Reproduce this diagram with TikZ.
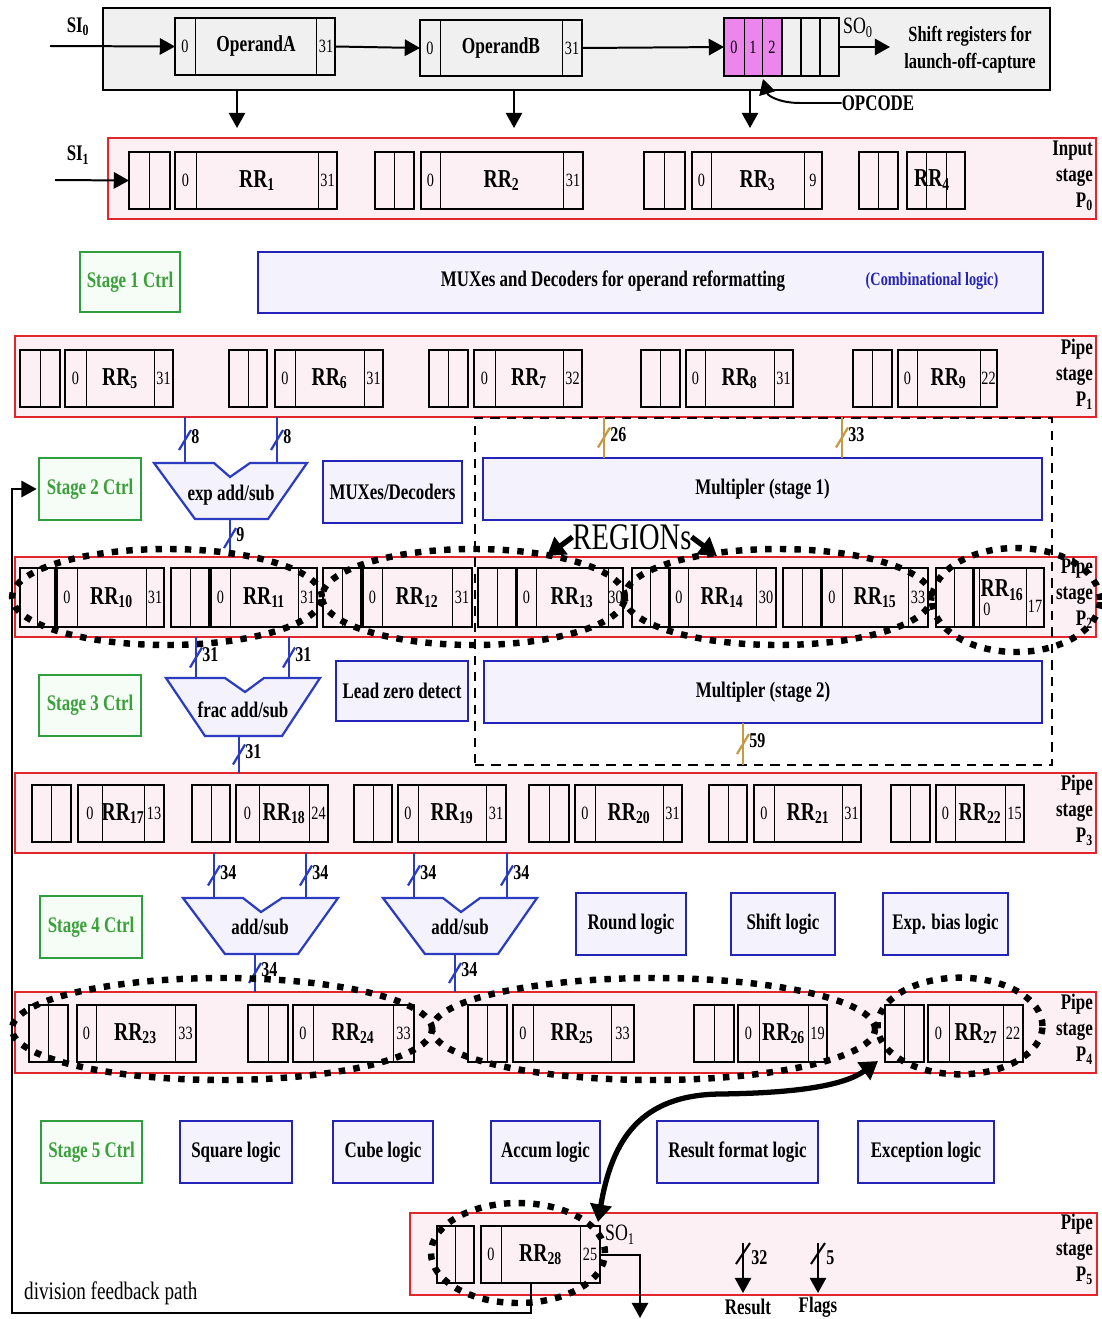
\documentclass[tikz,border=0pt]{standalone}
\usepackage{fontspec}
\setmainfont{Liberation Serif}[FakeStretch=0.76]
\usetikzlibrary{calc,fit,shapes.geometric,arrows.meta}
\definecolor{pinkfill}{HTML}{FDF0F4}
\definecolor{redline}{HTML}{E3262C}
\definecolor{grayfill}{HTML}{F0F0F0}
\definecolor{ctrlgreen}{HTML}{2E9E3E}
\definecolor{ctrltext}{HTML}{3AA03A}
\definecolor{ctrlfill}{HTML}{F6FCF6}
\definecolor{logicblue}{HTML}{2323B8}
\definecolor{logicfill}{HTML}{F4F2FD}
\definecolor{busblue}{HTML}{2B3CC0}
\definecolor{busgold}{HTML}{C49A44}
\definecolor{opmag}{HTML}{EC86EC}
\newcommand\fsz[2]{\fontsize{#1}{#2}\selectfont}
\newcommand\SmallReg[5]{%
  \node[reg, fit={(#2,#4)(#3,#5)}] (#1) {};
  \draw[div] ({(#2+#3)/2},#4) -- ({(#2+#3)/2},#5);}
\newcommand\BigReg[9]{%
  \node[reg, fit={(#2,#6)(#3,#7)}] (#1) {};
  \draw[div] (#4,#6) -- (#4,#7);
  \draw[div] (#5,#6) -- (#5,#7);
  \node[bit] at ({(#2+#4)/2},{(#6+#7)/2}) {0};
  \node[rrl] at ({(#4+#5)/2},{(#6+#7)/2}) {RR\textsubscript{#8}};
  \node[bit] at ({(#5+#3)/2},{(#6+#7)/2}) {#9};}
\newcommand\LBox[7]{%
  \node[#1, fit={(#3,#4)(#5,#6)}] (#2) {};
  \node[#1t] (#2t) at (#2.center) {#7};}
\newcommand\BusW[4]{%
  \draw[buswire,draw=#4] (#1) -- (#2) coordinate[pos=0.5] (bm);
  \draw[buswire,draw=#4] ($(bm)+(-6,10)$) -- ($(bm)+(6,-10)$);
  \node[buslbl] at ($(bm)+(5,-3)$) {#3};}
\begin{document}
\begin{tikzpicture}[x=0.03cm,y=-0.03cm,
  pipe/.style={draw=redline,fill=pinkfill,line width=1.7pt,inner sep=0pt,outer sep=0pt},
  topbox/.style={draw=black,fill=grayfill,line width=2pt,inner sep=0pt,outer sep=0pt},
  reg/.style={draw=black,line width=2.3pt,inner sep=0pt,outer sep=0pt},
  div/.style={black,line width=0.8pt},
  bit/.style={font=\fsz{16}{16},inner sep=0pt},
  rrl/.style={font=\bfseries\fsz{22}{22},inner sep=0pt},
  lbl/.style={font=\bfseries\fsz{19}{19},inner sep=0pt},
  rlbl/.style={font=\fsz{20}{20},inner sep=0pt},
  stagelbl/.style={font=\bfseries\fsz{19}{22},align=right,inner sep=0pt,anchor=north east},
  ctrl/.style={draw=ctrlgreen,fill=ctrlfill,line width=1.8pt,inner sep=0pt,outer sep=0pt},
  ctrlt/.style={text=ctrltext,font=\bfseries\fsz{19}{19},inner sep=0pt},
  logic/.style={draw=logicblue,fill=logicfill,line width=1.8pt,inner sep=0pt,outer sep=0pt},
  logict/.style={font=\bfseries\fsz{19}{19},inner sep=0pt},
  alu/.style={draw=busblue,fill=logicfill,line width=1.9pt,line join=miter},
  buswire/.style={line width=1.9pt},
  buslbl/.style={anchor=west,font=\bfseries\fsz{18}{18},inner sep=1pt},
  arr/.style={line width=1.7pt,-{Triangle[length=13pt,width=14pt]}},
  fat/.style={line width=4.5pt,-{Triangle[length=15pt,width=18pt]}},
  region/.style={ellipse,draw=black,line width=5.5pt,dash pattern=on 5.5pt off 7pt,inner sep=0pt,outer sep=0pt},
  mregion/.style={draw=black,line width=2.3pt,dash pattern=on 8pt off 6pt,inner sep=0pt,outer sep=0pt}]
\fill[white] (0,0) rectangle (1102,1319);
\useasboundingbox (0,0) rectangle (1102,1319);

% ---------- top shift register box ----------
\node[topbox, fit={(103,8)(1050,90)}] (Top) {};
\node[lbl] (si0l) at (78,27) {SI\textsubscript{0}};
\node[reg, fit={(175,18)(335,75)}] (OpA) {};
\draw[div] (195,18) -- (195,75); \draw[div] (316,18) -- (316,75);
\node[bit] at (185,46) {0}; \node[bit] at (326,46) {31};
\node[font=\bfseries\fsz{19.5}{19.5},inner sep=0pt] at (256,46) {OperandA};
\node[reg, fit={(420,20)(582,76)}] (OpB) {};
\draw[div] (440,20) -- (440,76); \draw[div] (562,20) -- (562,76);
\node[bit] at (430,48) {0}; \node[bit] at (572,48) {31};
\node[font=\bfseries\fsz{19.5}{19.5},inner sep=0pt] at (501,48) {OperandB};
\fill[opmag] (724,18) rectangle (782,76);
\node[reg, fit={(724,18)(839,76)}] (Opc) {};
\draw[div] (744,18) -- (744,76); \draw[div] (762,18) -- (762,76);
\draw[reg] (782,18) -- (782,76); \draw[reg] (801,18) -- (801,76); \draw[reg] (820,18) -- (820,76);
\node[bit] at (734,47) {0}; \node[bit] at (753,47) {1}; \node[bit] at (772,47) {2};
\coordinate (si0) at (50,46);
\draw[arr] (si0) -- (OpA.west);
\draw[arr] (OpA.east) -- (OpB.west);
\draw[arr] (OpB.east) -- (Opc.west);
\node[rlbl] (so0l) at (858,28) {SO\textsubscript{0}};
\coordinate (so0) at (890,47);
\draw[arr] (Opc.east) -- (so0);
\node[font=\bfseries\fsz{18.5}{23},align=center,inner sep=0pt] (shiftl) at (970,50) {Shift registers for\\launch-off-capture};
\node[lbl] (opcode) at (878,103) {OPCODE};
\coordinate (opctip) at (763,79);
\draw[arr] (opcode.west) -- (800,103) .. controls (780,103) and (768,96) .. (opctip);
\coordinate (d1) at (237,128); \coordinate (d2) at (514,128); \coordinate (d3) at (750,128);
\draw[arr] (Top.south -| d1) -- (d1);
\draw[arr] (Top.south -| d2) -- (d2);
\draw[arr] (Top.south -| d3) -- (d3);

% ---------- input stage P0 ----------
\node[pipe, fit={(108,138)(1096,219)}] (P0) {};
\node[lbl] (si1l) at (78,155) {SI\textsubscript{1}};
\SmallReg{S1}{129}{170}{152}{209}
\BigReg{R1}{175}{337}{196}{318}{152}{209}{1}{31}
\SmallReg{S2}{375}{414}{152}{209}
\BigReg{R2}{421}{583}{440}{563}{152}{209}{2}{31}
\SmallReg{S3}{644}{685}{152}{209}
\BigReg{R3}{692}{822}{711}{804}{152}{209}{3}{9}
\SmallReg{S4}{859}{898}{152}{209}
\node[reg, fit={(907,152)(965,209)}] (R4) {};
\draw[div] (926,152) -- (926,209); \draw[div] (946,152) -- (946,209);
\node[rrl] at (932,180) {RR\textsubscript{4}};
\coordinate (si1) at (55,180);
\draw[arr] (si1) -- (S1.west);
\node[stagelbl] at (1093,141) {Input\\stage\\P\textsubscript{0}};

% ---------- stage 1 ----------
\LBox{ctrl}{C1}{80}{252}{180}{312}{Stage 1 Ctrl}
\node[logic, fit={(258,252)(1043,313)}] (Mux) {};
\node[logict] at (613,281) {MUXes and Decoders for operand reformatting};
\node[font=\bfseries\fsz{16}{16},text=logicblue,inner sep=0pt] at (932,281) {(Combinational logic)};

% ---------- pipe stage P1 ----------
\node[pipe, fit={(15,336)(1096,417)}] (P1) {};
\SmallReg{S5}{20}{60}{350}{407}
\BigReg{R5}{65}{173}{86}{154}{350}{407}{5}{31}
\SmallReg{S6}{229}{267}{350}{407}
\BigReg{R6}{275}{383}{295}{364}{350}{407}{6}{31}
\SmallReg{S7}{429}{468}{350}{407}
\BigReg{R7}{474}{582}{495}{563}{350}{407}{7}{32}
\SmallReg{S8}{641}{680}{350}{407}
\BigReg{R8}{686}{793}{705}{774}{350}{407}{8}{31}
\SmallReg{S9}{853}{892}{350}{407}
\BigReg{R9}{898}{997}{917}{980}{350}{407}{9}{22}
\node[stagelbl] at (1093,339) {Pipe\\stage\\P\textsubscript{1}};

% ---------- pipe stage P2 / P3 boxes (backgrounds) ----------
\node[pipe, fit={(15,557)(1096,637)}] (P2) {};
\node[pipe, fit={(15,773)(1096,853)}] (P3) {};
\node[mregion, fit={(475,418)(1052,765)}] (MR) {};

% ---------- stage 2 ----------
\LBox{ctrl}{C2}{39}{458}{141}{520}{Stage 2 Ctrl}
\draw[alu] (154,463) -- (214,463) -- (230,477) -- (250,463) -- (307,463) -- (268,519) -- (195,519) -- cycle;
\node[logict] (expl) at (231,495) {exp add/sub};
\coordinate (ea1) at (185,463); \coordinate (ea2) at (277,463); \coordinate (eao) at (230,519);
\BusW{P1.south -| ea1}{ea1}{8}{busblue}
\BusW{P1.south -| ea2}{ea2}{8}{busblue}
\BusW{eao}{P2.north -| eao}{9}{busblue}
\LBox{logic}{MD}{323}{461}{462}{523}{MUXes/Decoders}
\LBox{logic}{M1}{483}{458}{1042}{520}{Multipler (stage 1)}
\coordinate (b26) at (604,0); \coordinate (b33) at (842,0);
\BusW{P1.south -| b26}{M1.north -| b26}{26}{busgold}
\BusW{P1.south -| b33}{M1.north -| b33}{33}{busgold}

% ---------- pipe stage P2 registers ----------
\SmallReg{S10}{20}{55}{568}{627}
\BigReg{R10}{57}{164}{77}{146}{568}{627}{10}{31}
\SmallReg{S11}{171}{209}{568}{627}
\BigReg{R11}{211}{317}{230}{298}{568}{627}{11}{31}
\SmallReg{S12}{323}{361}{568}{627}
\BigReg{R12}{363}{472}{382}{452}{568}{627}{12}{31}
\SmallReg{S13}{478}{516}{568}{627}
\BigReg{R13}{517}{623}{536}{608}{568}{627}{13}{30}
\SmallReg{S14}{632}{669}{568}{627}
\BigReg{R14}{670}{776}{688}{756}{568}{627}{14}{30}
\SmallReg{S15}{783}{821}{568}{627}
\BigReg{R15}{822}{928}{842}{908}{568}{627}{15}{33}
\SmallReg{S16}{936}{973}{568}{627}
\node[reg, fit={(974,568)(1044,627)}] (R16) {};
\draw[div] (979,568) -- (979,627); \draw[div] (1026,568) -- (1026,627);
\node[bit] at (987,609) {0};
\node[rrl] at (1002,590) {RR\textsubscript{16}};
\node[bit] at (1035,606) {17};
\node[stagelbl] at (1093,558) {Pipe\\stage\\P\textsubscript{2}};
\node[region, minimum width=9.3cm, minimum height=2.88cm] (G1) at (167,597) {};
\node[region, minimum width=9.09cm, minimum height=2.88cm] (G2) at (473.5,597) {};
\node[region, minimum width=9.21cm, minimum height=2.88cm] (G3) at (778,597) {};
\node[region, minimum width=5.04cm, minimum height=3.12cm] (G4) at (1016,600) {};
\node[font=\fsz{32}{32},inner sep=0pt] (REG) at (632,537) {REGIONs};
\coordinate (rl) at (547,556); \coordinate (rr) at (717,556);
\draw[fat] (REG.west) -- (rl);
\draw[fat] (REG.east) -- (rr);

% ---------- stage 3 ----------
\LBox{ctrl}{C3}{39}{675}{141}{736}{Stage 3 Ctrl}
\draw[alu] (166,678) -- (225,678) -- (245,692) -- (264,678) -- (320,678) -- (282,736) -- (205,736) -- cycle;
\node[logict] (fracl) at (243,710) {frac add/sub};
\coordinate (fa1) at (196,678); \coordinate (fa2) at (289,678); \coordinate (fao) at (239,736);
\BusW{P2.south -| fa1}{fa1}{31}{busblue}
\BusW{P2.south -| fa2}{fa2}{31}{busblue}
\BusW{fao}{P3.north -| fao}{31}{busblue}
\LBox{logic}{LZ}{336}{661}{468}{721}{Lead zero detect}
\LBox{logic}{M2}{484}{661}{1042}{723}{Multipler (stage 2)}
\coordinate (b59) at (743,0);
\BusW{M2.south -| b59}{MR.south -| b59}{59}{busgold}

% ---------- pipe stage P3 registers ----------
\SmallReg{S17}{32}{71}{785}{842}
\BigReg{R17}{78}{164}{102}{144}{785}{842}{17}{13}
\SmallReg{S18}{192}{230}{785}{842}
\BigReg{R18}{236}{328}{259}{309}{785}{842}{18}{24}
\SmallReg{S19}{354}{392}{785}{842}
\BigReg{R19}{398}{506}{418}{486}{785}{842}{19}{31}
\SmallReg{S20}{529}{569}{785}{842}
\BigReg{R20}{575}{682}{595}{663}{785}{842}{20}{31}
\SmallReg{S21}{709}{747}{785}{842}
\BigReg{R21}{754}{861}{774}{842}{785}{842}{21}{31}
\SmallReg{S22}{891}{930}{785}{842}
\BigReg{R22}{936}{1024}{955}{1005}{785}{842}{22}{15}
\node[stagelbl] at (1093,775) {Pipe\\stage\\P\textsubscript{3}};

% ---------- stage 4 ----------
\node[pipe, fit={(15,992)(1096,1073)}] (P4) {};
\LBox{ctrl}{C4}{40}{896}{142}{958}{Stage 4 Ctrl}
\draw[alu] (183,898) -- (243,898) -- (261,912) -- (282,898) -- (338,898) -- (298,954) -- (225,954) -- cycle;
\node[logict] (as1l) at (260,927) {add/sub};
\draw[alu] (383,898) -- (443,898) -- (461,912) -- (480,898) -- (537,898) -- (498,954) -- (425,954) -- cycle;
\node[logict] (as2l) at (460,927) {add/sub};
\coordinate (a1i1) at (214,898); \coordinate (a1i2) at (306,898); \coordinate (a1o) at (255,954);
\coordinate (a2i1) at (414,898); \coordinate (a2i2) at (507,898); \coordinate (a2o) at (455,954);
\BusW{P3.south -| a1i1}{a1i1}{34}{busblue}
\BusW{P3.south -| a1i2}{a1i2}{34}{busblue}
\BusW{P3.south -| a2i1}{a2i1}{34}{busblue}
\BusW{P3.south -| a2i2}{a2i2}{34}{busblue}
\BusW{a1o}{P4.north -| a1o}{34}{busblue}
\BusW{a2o}{P4.north -| a2o}{34}{busblue}
\LBox{logic}{RL}{576}{893}{686}{955}{Round logic}
\LBox{logic}{SL}{731}{893}{835}{955}{Shift logic}
\LBox{logic}{EB}{883}{893}{1008}{955}{Exp. bias logic}

% ---------- pipe stage P4 registers ----------
\SmallReg{S23}{29}{68}{1005}{1062}
\BigReg{R23}{77}{196}{96}{175}{1005}{1062}{23}{33}
\SmallReg{S24}{248}{288}{1005}{1062}
\BigReg{R24}{293}{414}{313}{393}{1005}{1062}{24}{33}
\SmallReg{S25}{468}{507}{1005}{1062}
\BigReg{R25}{513}{634}{533}{611}{1005}{1062}{25}{33}
\SmallReg{S26}{694}{734}{1005}{1062}
\BigReg{R26}{738}{827}{759}{808}{1005}{1062}{26}{19}
\SmallReg{S27}{885}{924}{1005}{1062}
\BigReg{R27}{928}{1023}{949}{1003}{1005}{1062}{27}{22}
\node[stagelbl] at (1093,994) {Pipe\\stage\\P\textsubscript{4}};
\node[region, minimum width=12.6cm, minimum height=3.06cm] (H1) at (222,1029) {};
\node[region, minimum width=13.29cm, minimum height=3.06cm] (H2) at (653.5,1029) {};
\node[region, minimum width=4.95cm, minimum height=2.9cm] (H3) at (960,1026) {};

% ---------- stage 5 ----------
\LBox{ctrl}{C5}{41}{1121}{142}{1183}{Stage 5 Ctrl}
\LBox{logic}{SQ}{180}{1121}{292}{1183}{Square logic}
\LBox{logic}{CU}{333}{1121}{433}{1183}{Cube logic}
\LBox{logic}{AC}{491}{1121}{600}{1183}{Accum logic}
\LBox{logic}{RF}{657}{1121}{818}{1183}{Result format logic}
\LBox{logic}{EX}{858}{1121}{994}{1183}{Exception logic}

% ---------- pipe stage P5 ----------
\node[pipe, fit={(410,1213)(1097,1295)}] (P5) {};
\SmallReg{S28}{437}{474}{1226}{1283}
\BigReg{R28}{481}{600}{501}{580}{1226}{1283}{28}{25}
\node[region, minimum width=5.22cm, minimum height=3.0cm] (K) at (518,1253) {};
\node[stagelbl] at (1093,1214) {Pipe\\stage\\P\textsubscript{5}};
\node[rlbl] (so1l) at (620,1235) {SO\textsubscript{1}};
\coordinate (so1) at (640,1318);
\draw[arr] (R28.east) -| (so1);
\coordinate (r0) at (743,1243); \coordinate (r1) at (743,1293);
\draw[arr] (r0) -- (r1);
\draw[line width=1.7pt] (736,1264) -- (750,1243);
\node[buslbl] at (750,1258) {32};
\node[lbl] (resl) at (748,1307) {Result};
\coordinate (f0) at (818,1243); \coordinate (f1) at (818,1293);
\draw[arr] (f0) -- (f1);
\draw[line width=1.7pt] (811,1264) -- (825,1243);
\node[buslbl] at (825,1258) {5};
\node[lbl] (flagl) at (818,1307) {Flags};

% ---------- division feedback path ----------
\coordinate (fbA) at (531,1313); \coordinate (fbB) at (12,1313);
\draw[arr, line width=1.5pt, shorten >=2pt] (R28.south -| fbA) -- (fbA) -- (fbB) |- (C2.west);
\node[anchor=west,font=\fsz{21.5}{21.5},inner sep=0pt] (fbl) at (24,1293) {division feedback path};

% ---------- curved double arrow ----------
\coordinate (cvA) at (598,1222); \coordinate (cvB) at (878,1061);
\draw[line width=4.5pt, {Triangle[length=15pt,width=18pt]}-{Triangle[length=15pt,width=18pt]}]
  (cvA) .. controls (612,1140) and (640,1095) .. (720,1094) .. controls (800,1093) and (845,1085) .. (cvB);
\end{tikzpicture}
\end{document}
